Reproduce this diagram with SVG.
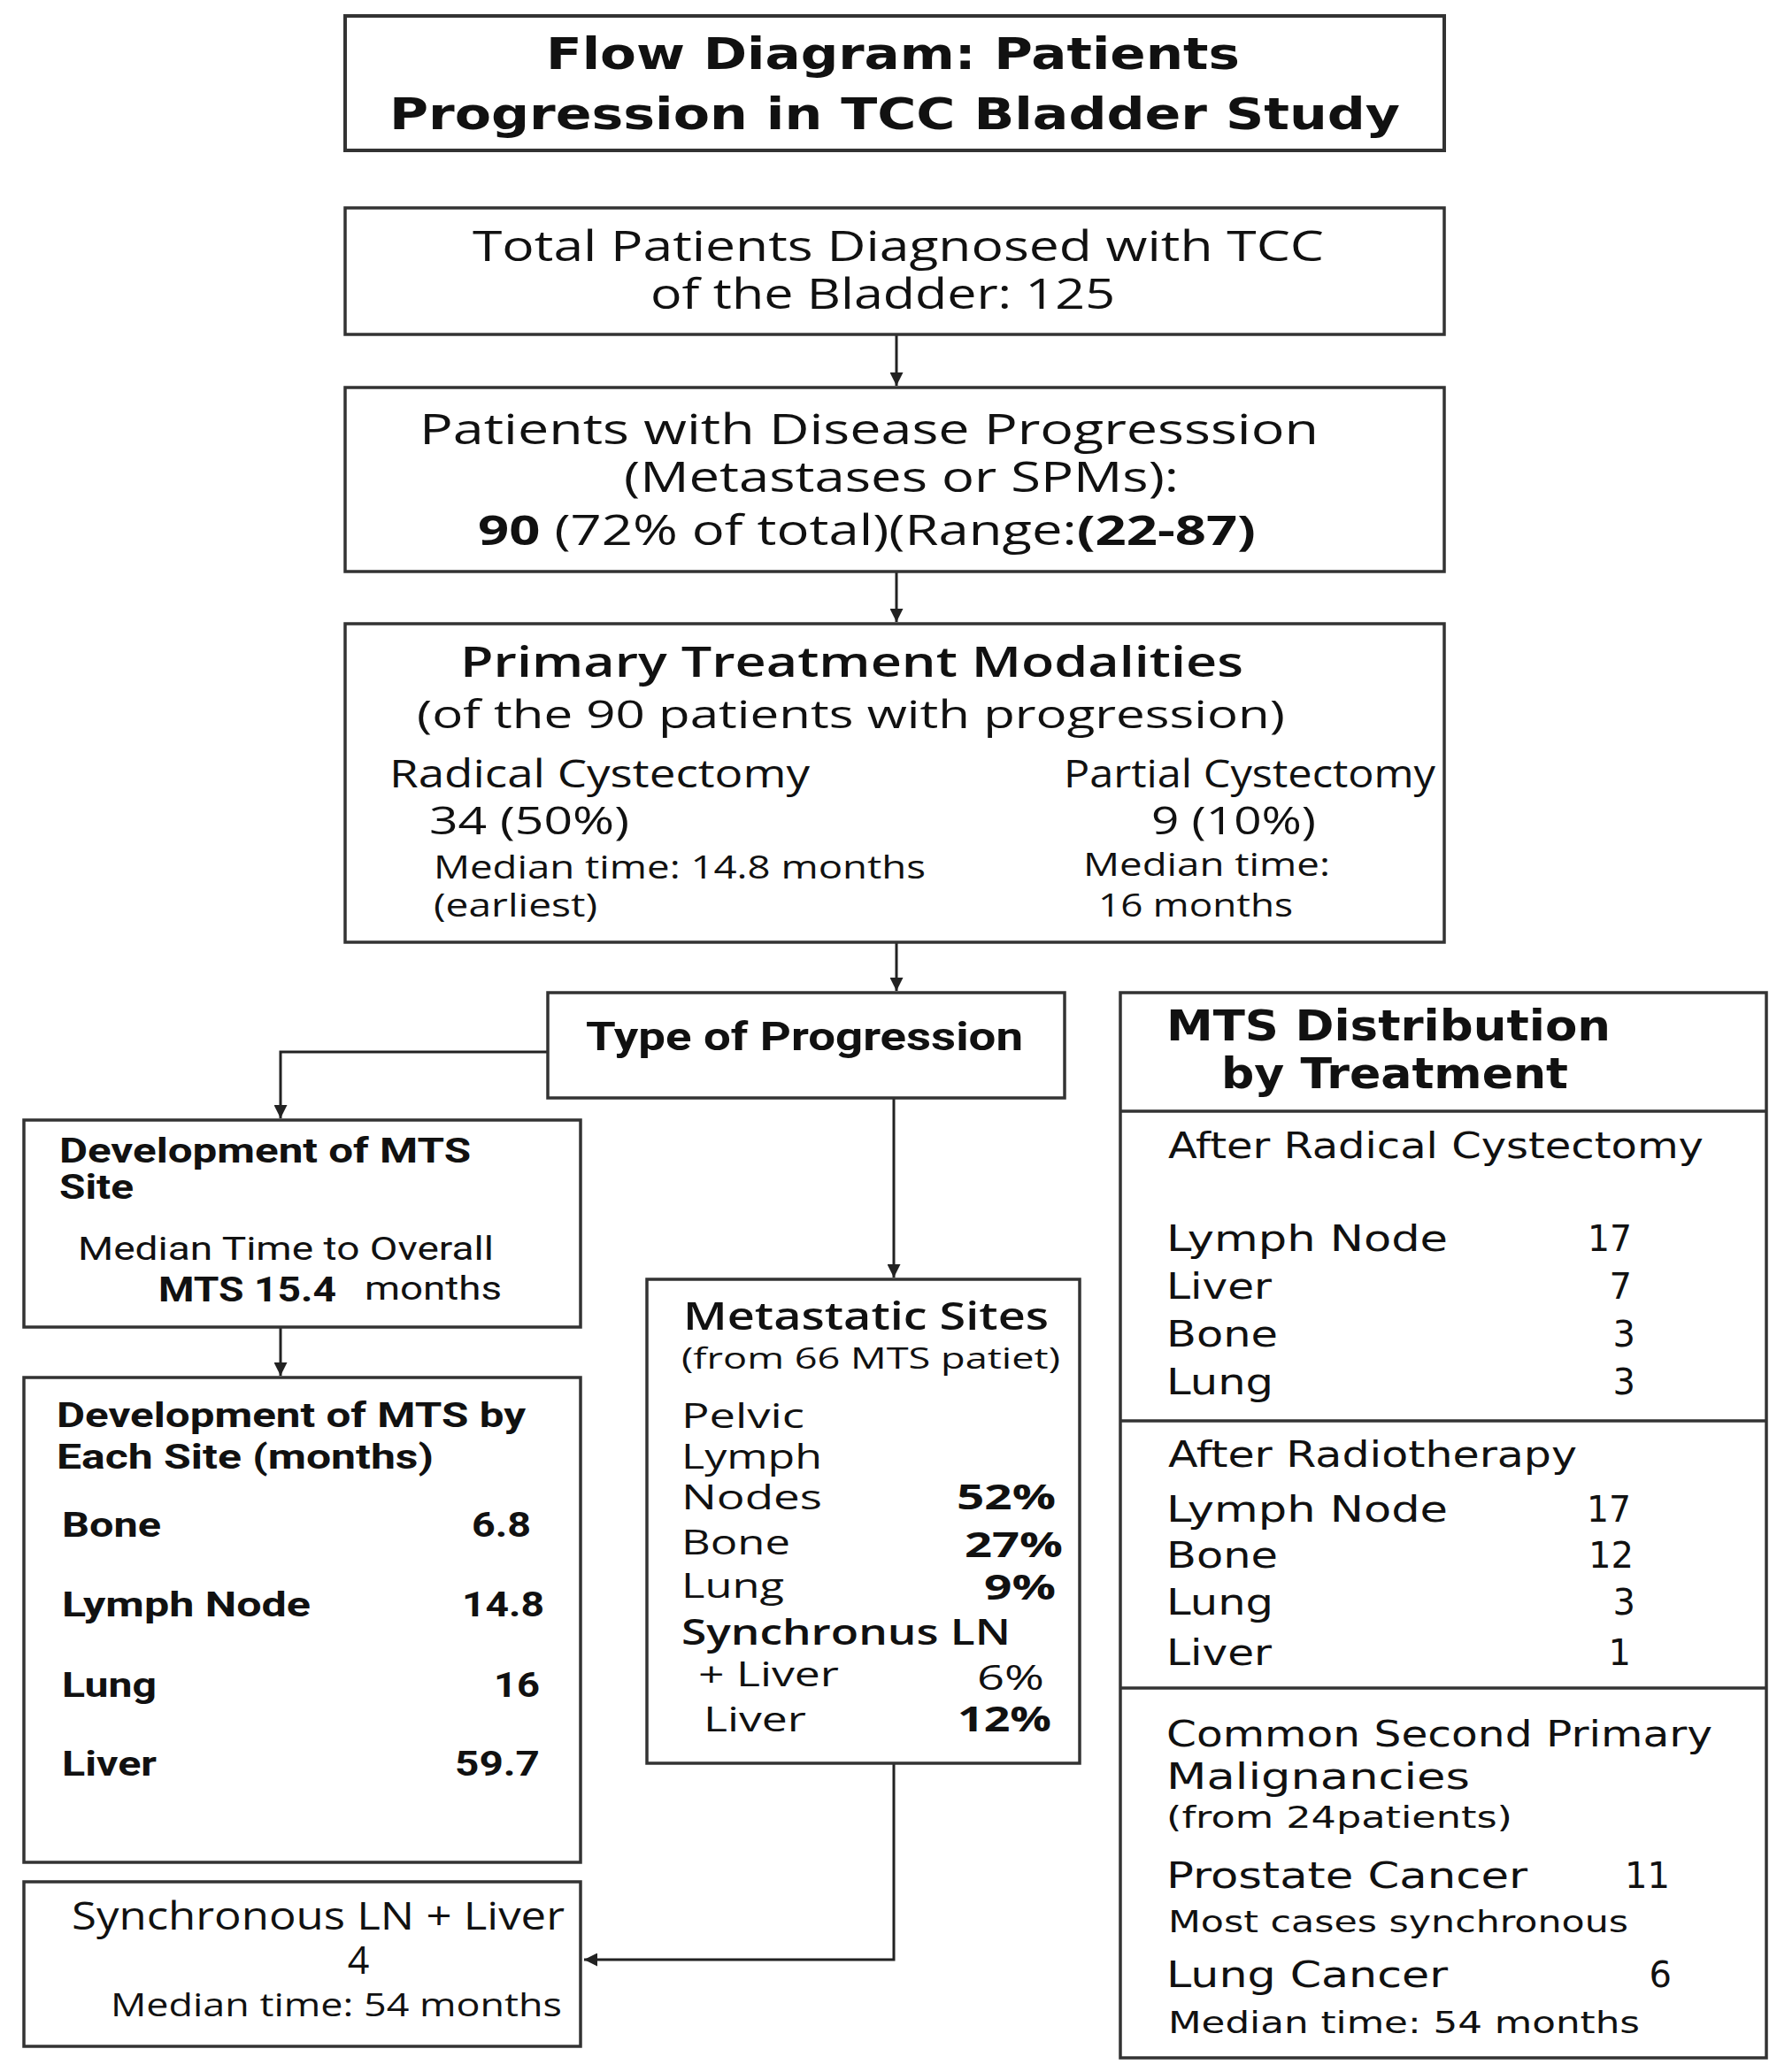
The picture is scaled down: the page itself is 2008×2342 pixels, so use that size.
<svg xmlns="http://www.w3.org/2000/svg" width="2008" height="2342" viewBox="0 0 2008 2342">
<style>
rect.box{fill:#fff;stroke:#333;stroke-width:3.5}
line.div{stroke:#333;stroke-width:3.5}
.c{stroke:#222;stroke-width:3;fill:none}
text{fill:#111;font-family:"Open Sans","Lato",sans-serif;font-weight:500}
.t{font-family:"DejaVu Sans",sans-serif;font-weight:bold;font-size:50px}
.lg{font-size:47px}
.md{font-size:43px}
.ms{font-size:39px}
.sm{font-size:37px}
.cb{font-family:"Roboto","Liberation Sans",sans-serif;font-weight:bold;font-size:38px}
.cr{font-family:"Roboto","Liberation Sans",sans-serif;font-weight:normal;font-size:36px}
.g{font-family:"DejaVu Sans",sans-serif;font-weight:normal;font-size:40px}
.gh{font-family:"DejaVu Sans",sans-serif;font-size:48px;font-weight:600}
.gs{font-family:"DejaVu Sans",sans-serif;font-weight:normal;font-size:34px}
.b{font-weight:bold}
.sb{font-weight:600}
.m{text-anchor:middle}
.e{text-anchor:end}
</style>
<defs>
<marker id="ah" viewBox="0 0 10 10" refX="10" refY="5" markerWidth="5" markerHeight="5" markerUnits="strokeWidth" orient="auto">
<path d="M0,0 L10,5 L0,10 z" fill="#222"/>
</marker>
</defs>

<g id="connectors">
<line class="c" x1="1013" y1="378" x2="1013" y2="436" marker-end="url(#ah)"/>
<line class="c" x1="1013" y1="646" x2="1013" y2="703" marker-end="url(#ah)"/>
<line class="c" x1="1013" y1="1065" x2="1013" y2="1120" marker-end="url(#ah)"/>
<polyline class="c" points="619,1189 317,1189 317,1264" marker-end="url(#ah)"/>
<line class="c" x1="1010" y1="1241" x2="1010" y2="1444" marker-end="url(#ah)"/>
<line class="c" x1="317" y1="1500" x2="317" y2="1555" marker-end="url(#ah)"/>
<polyline class="c" points="1010,1993 1010,2215 660,2215" marker-end="url(#ah)"/>
</g>

<g id="title">
<rect class="box" x="390" y="18" width="1242" height="152" style="stroke-width:4"/>
<text class="t" x="617" y="78" textLength="784" lengthAdjust="spacingAndGlyphs">Flow Diagram: Patients</text>
<text class="t" x="440" y="146" textLength="1142" lengthAdjust="spacingAndGlyphs">Progression in TCC Bladder Study</text>
</g>

<g id="total">
<rect class="box" x="390" y="235" width="1242" height="143"/>
<text class="lg" x="534" y="295" textLength="962" lengthAdjust="spacingAndGlyphs">Total Patients Diagnosed with TCC</text>
<text class="lg" x="735" y="349" textLength="525" lengthAdjust="spacingAndGlyphs">of the Bladder: 125</text>
</g>

<g id="progression">
<rect class="box" x="390" y="438" width="1242" height="208"/>
<text class="lg" x="474" y="502" textLength="1016" lengthAdjust="spacingAndGlyphs">Patients with Disease Progresssion</text>
<text class="lg" x="705" y="556" textLength="627" lengthAdjust="spacingAndGlyphs">(Metastases or SPMs):</text>
<text class="lg" x="540" y="616" textLength="879" lengthAdjust="spacingAndGlyphs"><tspan class="b">90</tspan> (72% of total)(Range:<tspan class="b">(22-87)</tspan></text>
</g>

<g id="treatment">
<rect class="box" x="390" y="705" width="1242" height="360"/>
<text class="lg sb" x="520" y="765" textLength="885" lengthAdjust="spacingAndGlyphs">Primary Treatment Modalities</text>
<text class="md" x="471" y="823" textLength="981" lengthAdjust="spacingAndGlyphs">(of the 90 patients with progression)</text>
<text class="md" x="440" y="890" textLength="475" lengthAdjust="spacingAndGlyphs">Radical Cystectomy</text>
<text class="md" x="1202" y="890" textLength="420" lengthAdjust="spacingAndGlyphs">Partial Cystectomy</text>
<text class="md" x="485" y="943" textLength="226" lengthAdjust="spacingAndGlyphs">34 (50%)</text>
<text class="md" x="1301" y="943" textLength="186" lengthAdjust="spacingAndGlyphs">9 (10%)</text>
<text class="sm" x="490" y="993" textLength="556" lengthAdjust="spacingAndGlyphs">Median  time: 14.8 months</text>
<text class="sm" x="1224" y="990" textLength="279" lengthAdjust="spacingAndGlyphs">Median  time:</text>
<text class="sm" x="490" y="1036" textLength="185" lengthAdjust="spacingAndGlyphs">(earliest)</text>
<text class="sm" x="1241" y="1036" textLength="220" lengthAdjust="spacingAndGlyphs">16 months</text>
</g>

<g id="type">
<rect class="box" x="619" y="1122" width="584" height="119"/>
<text class="cb" x="662" y="1187" textLength="494" lengthAdjust="spacingAndGlyphs" style="font-size:44px">Type of Progression</text>
</g>

<g id="dev-site">
<rect class="box" x="27" y="1266" width="629" height="234"/>
<text class="cb" x="67" y="1314" textLength="465" lengthAdjust="spacingAndGlyphs">Development of MTS</text>
<text class="cb" x="67" y="1355" textLength="84" lengthAdjust="spacingAndGlyphs">Site</text>
<text class="cr" x="88" y="1424" textLength="470" lengthAdjust="spacingAndGlyphs">Median Time to Overall</text>
<text class="cb" x="179" y="1471" textLength="201" lengthAdjust="spacingAndGlyphs">MTS 15.4</text>
<text class="cr" x="412" y="1469" textLength="155" lengthAdjust="spacingAndGlyphs">months</text>
</g>

<g id="dev-each">
<rect class="box" x="27" y="1557" width="629" height="548"/>
<text class="cb" x="64" y="1613" textLength="530" lengthAdjust="spacingAndGlyphs">Development of MTS by</text>
<text class="cb" x="64" y="1660" textLength="426" lengthAdjust="spacingAndGlyphs">Each Site (months)</text>
<text class="cb" x="70" y="1737" textLength="112" lengthAdjust="spacingAndGlyphs">Bone</text>
<text class="cb e" x="600" y="1737" textLength="67" lengthAdjust="spacingAndGlyphs">6.8</text>
<text class="cb" x="70" y="1827" textLength="281" lengthAdjust="spacingAndGlyphs">Lymph Node</text>
<text class="cb e" x="615" y="1827" textLength="93" lengthAdjust="spacingAndGlyphs">14.8</text>
<text class="cb" x="70" y="1918" textLength="107" lengthAdjust="spacingAndGlyphs">Lung</text>
<text class="cb e" x="610" y="1918" textLength="52" lengthAdjust="spacingAndGlyphs">16</text>
<text class="cb" x="70" y="2007" textLength="107" lengthAdjust="spacingAndGlyphs">Liver</text>
<text class="cb e" x="610" y="2007" textLength="96" lengthAdjust="spacingAndGlyphs">59.7</text>
</g>

<g id="metastatic">
<rect class="box" x="731" y="1446" width="489" height="547"/>
<text class="md sb" x="772" y="1503" textLength="413" lengthAdjust="spacingAndGlyphs">Metastatic Sites</text>
<text class="sm" x="770" y="1547" textLength="428" lengthAdjust="spacingAndGlyphs" style="font-size:32px">(from 66 MTS patiet)</text>
<text class="ms" x="770" y="1614" textLength="139" lengthAdjust="spacingAndGlyphs">Pelvic</text>
<text class="ms" x="770" y="1660" textLength="159" lengthAdjust="spacingAndGlyphs">Lymph</text>
<text class="ms" x="770" y="1706" textLength="159" lengthAdjust="spacingAndGlyphs">Nodes</text>
<text class="ms b e" x="1193" y="1706" textLength="112" lengthAdjust="spacingAndGlyphs">52%</text>
<text class="ms" x="770" y="1757" textLength="123" lengthAdjust="spacingAndGlyphs">Bone</text>
<text class="ms b e" x="1201" y="1760" textLength="111" lengthAdjust="spacingAndGlyphs">27%</text>
<text class="ms" x="770" y="1806" textLength="116" lengthAdjust="spacingAndGlyphs">Lung</text>
<text class="ms b e" x="1193" y="1808" textLength="81" lengthAdjust="spacingAndGlyphs">9%</text>
<text class="ms sb" x="770" y="1859" textLength="372" lengthAdjust="spacingAndGlyphs">Synchronus LN</text>
<text class="ms" x="789" y="1906" textLength="159" lengthAdjust="spacingAndGlyphs">+ Liver</text>
<text class="ms e" x="1180" y="1910" textLength="76" lengthAdjust="spacingAndGlyphs">6%</text>
<text class="ms" x="795" y="1957" textLength="116" lengthAdjust="spacingAndGlyphs">Liver</text>
<text class="ms b e" x="1188" y="1957" textLength="106" lengthAdjust="spacingAndGlyphs">12%</text>
</g>

<g id="sync">
<rect class="box" x="27" y="2127" width="629" height="186"/>
<text class="md" x="81" y="2181" textLength="557" lengthAdjust="spacingAndGlyphs">Synchronous LN + Liver</text>
<text class="md m" x="405" y="2231">4</text>
<text class="sm" x="125" y="2279" textLength="510" lengthAdjust="spacingAndGlyphs">Median   time: 54 months</text>
</g>

<g id="distribution">
<rect class="box" x="1266" y="1122" width="730" height="1204"/>
<line class="div" x1="1266" y1="1256" x2="1996" y2="1256"/>
<line class="div" x1="1266" y1="1606" x2="1996" y2="1606"/>
<line class="div" x1="1266" y1="1908" x2="1996" y2="1908"/>
<text class="gh" x="1318" y="1176" textLength="502" lengthAdjust="spacingAndGlyphs">MTS Distribution</text>
<text class="gh" x="1380" y="1230" textLength="392" lengthAdjust="spacingAndGlyphs">by Treatment</text>
<text class="g" x="1320" y="1309" textLength="605" lengthAdjust="spacingAndGlyphs">After Radical Cystectomy</text>
<text class="g" x="1318" y="1414" textLength="318" lengthAdjust="spacingAndGlyphs">Lymph Node</text>
<text class="g e" x="1844" y="1414" textLength="50" lengthAdjust="spacingAndGlyphs">17</text>
<text class="g" x="1318" y="1468" textLength="119" lengthAdjust="spacingAndGlyphs">Liver</text>
<text class="g e" x="1844" y="1468">7</text>
<text class="g" x="1318" y="1522" textLength="126" lengthAdjust="spacingAndGlyphs">Bone</text>
<text class="g e" x="1848" y="1522">3</text>
<text class="g" x="1318" y="1576" textLength="121" lengthAdjust="spacingAndGlyphs">Lung</text>
<text class="g e" x="1848" y="1576">3</text>
<text class="g" x="1320" y="1658" textLength="462" lengthAdjust="spacingAndGlyphs">After Radiotherapy</text>
<text class="g" x="1318" y="1720" textLength="318" lengthAdjust="spacingAndGlyphs">Lymph Node</text>
<text class="g e" x="1843" y="1720" textLength="50" lengthAdjust="spacingAndGlyphs">17</text>
<text class="g" x="1318" y="1772" textLength="126" lengthAdjust="spacingAndGlyphs">Bone</text>
<text class="g e" x="1846" y="1772" textLength="51" lengthAdjust="spacingAndGlyphs">12</text>
<text class="g" x="1318" y="1825" textLength="121" lengthAdjust="spacingAndGlyphs">Lung</text>
<text class="g e" x="1848" y="1825">3</text>
<text class="g" x="1318" y="1882" textLength="119" lengthAdjust="spacingAndGlyphs">Liver</text>
<text class="g e" x="1843" y="1882">1</text>
<text class="g" x="1318" y="1974" textLength="617" lengthAdjust="spacingAndGlyphs" style="font-weight:500">Common Second Primary</text>
<text class="g" x="1318" y="2022" textLength="343" lengthAdjust="spacingAndGlyphs" style="font-weight:500">Malignancies</text>
<text class="gs" x="1318" y="2066" textLength="391" lengthAdjust="spacingAndGlyphs">(from 24patients)</text>
<text class="g" x="1318" y="2134" textLength="408" lengthAdjust="spacingAndGlyphs">Prostate Cancer</text>
<text class="g e" x="1887" y="2134" textLength="51" lengthAdjust="spacingAndGlyphs">11</text>
<text class="gs" x="1320" y="2184" textLength="520" lengthAdjust="spacingAndGlyphs">Most cases synchronous</text>
<text class="g" x="1318" y="2246" textLength="318" lengthAdjust="spacingAndGlyphs">Lung Cancer</text>
<text class="g e" x="1889" y="2246">6</text>
<text class="gs" x="1320" y="2298" textLength="533" lengthAdjust="spacingAndGlyphs">Median  time: 54 months</text>
</g>
</svg>
